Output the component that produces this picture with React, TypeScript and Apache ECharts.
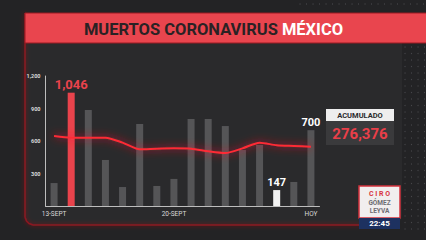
import React, { useEffect, useRef } from "react";
import * as echarts from "echarts";

const categories = ["13-SEPT","14-SEPT","15-SEPT","16-SEPT","17-SEPT","18-SEPT","19-SEPT","20-SEPT","21-SEPT","22-SEPT","23-SEPT","24-SEPT","25-SEPT","26-SEPT","27-SEPT","HOY"];
const deaths = [212, 1046, 886, 425, 175, 757, 185, 250, 803, 803, 738, 517, 563, 147, 222, 700];
const average = [646, 631, 631, 631, 585, 523, 529, 532, 529, 505, 489, 532, 585, 560, 554, 548];
const yTicks = [0, 300, 600, 900, 1200];
const shownLabels = [0, 7, 15];
const highlightRed = [1];
const highlightWhite = [13];
const labelled = [1, 13, 15];
const accumulated = "276,376";
const titleDark = "MUERTOS CORONAVIRUS ";
const titleLight = "MÉXICO";

function dots() {
  const out: any[] = [];
  for (let x = 405; x <= 426; x += 6.5) {
    for (let y = 47; y <= 235; y += 6.5) {
      out.push({ type: "circle", z: -20, shape: { cx: x, cy: y, r: 0.6 }, style: { fill: "#47474b" } });
    }
  }
  for (let x = 300; x <= 426; x += 6.5) {
    out.push({ type: "circle", z: -20, shape: { cx: x, cy: 4, r: 0.6 }, style: { fill: "#47474b" } });
  }
  return out;
}

export default function App() {
  const ref = useRef<HTMLDivElement>(null);
  useEffect(() => {
    if (!ref.current) return;
    const chart = echarts.init(ref.current, null, { renderer: "svg" });
    const barData = deaths.map((v, i) => {
      const red = highlightRed.includes(i);
      const white = highlightWhite.includes(i);
      const item: any = {
        value: v,
        itemStyle: { color: red ? "#e9434c" : white ? "#f2f2f2" : "rgba(120,120,124,0.55)" },
      };
      if (labelled.includes(i)) {
        item.label = {
          show: true,
          position: "top",
          distance: 2,
          formatter: (p: any) => Number(p.value).toLocaleString("en-US"),
          color: red ? "#e9434c" : "#ffffff",
          fontFamily: "Roboto",
          fontWeight: "bold",
          fontSize: red ? 13 : 11,
        };
      }
      return item;
    });
    chart.setOption({
      animation: false,
      backgroundColor: "#232325",
      grid: { left: 45.5, right: 106.5, top: 76, bottom: 34 },
      xAxis: {
        type: "category",
        data: categories,
        axisLine: { lineStyle: { color: "#bdbdbd", width: 1 } },
        axisTick: { show: false },
        axisLabel: {
          interval: (idx: number) => shownLabels.includes(idx),
          color: "#d8d8d8",
          fontSize: 6.5,
          fontFamily: "Roboto",
          margin: 4,
        },
      },
      yAxis: {
        type: "value",
        min: yTicks[0],
        max: yTicks[yTicks.length - 1],
        interval: 300,
        axisLine: { show: true, lineStyle: { color: "#bdbdbd", width: 1 } },
        axisTick: { show: false },
        splitLine: { show: false },
        axisLabel: {
          formatter: (v: number) => (v === 0 ? "" : v.toLocaleString("en-US")),
          color: "#d8d8d8",
          fontSize: 5.5,
          fontFamily: "Roboto",
          fontWeight: "bold",
          margin: 5,
        },
      },
      series: [
        {
          type: "bar",
          data: barData,
          barWidth: 7,
          z: 2,
        },
        {
          type: "line",
          data: average,
          symbol: "none",
          smooth: 0.25,
          z: 3,
          lineStyle: {
            color: "#ff2a36",
            width: 2,
            shadowColor: "rgba(255,30,40,1)",
            shadowBlur: 8,
          },
        },
      ],
      graphic: [
        ...dots(),
        {
          type: "rect",
          z: -10,
          shape: { x: 25, y: 13, width: 377, height: 212, r: [10, 0, 10, 10] },
          style: { fill: "#2a2a2c" },
        },
        {
          type: "polyline",
          z: -9,
          shape: { points: [[25, 13], [25, 217], [26.5, 221], [29, 223.5], [33, 225], [372, 225]] },
          style: { fill: null, stroke: "#8c1820", lineWidth: 1.5, shadowColor: "rgba(200,20,30,0.6)", shadowBlur: 4 },
        },
        {
          type: "rect",
          z: -5,
          shape: { x: 25, y: 13, width: 405, height: 30 },
          style: { fill: "#e9454e", stroke: "#9b1a22", lineWidth: 1 },
        },
        {
          type: "text",
          z: 10,
          x: 213.5,
          y: 29,
          style: {
            text: "{d|" + titleDark + "}{w|" + titleLight + "}",
            align: "center",
            verticalAlign: "middle",
            rich: {
              d: { fill: "#2a2224", fontSize: 16.5, fontWeight: "bold", fontFamily: "Roboto" },
              w: { fill: "#ffffff", fontSize: 16.5, fontWeight: "bold", fontFamily: "Roboto" },
            },
          },
        },
        {
          type: "rect",
          z: 10,
          shape: { x: 326, y: 109, width: 68, height: 12 },
          style: { fill: "#eeeeee" },
        },
        {
          type: "text",
          z: 11,
          x: 360,
          y: 115.5,
          style: { text: "ACUMULADO", align: "center", verticalAlign: "middle", fill: "#2a2a2c", fontSize: 7.5, fontWeight: "bold", fontFamily: "Roboto" },
        },
        {
          type: "rect",
          z: 10,
          shape: { x: 326, y: 121, width: 68, height: 24 },
          style: { fill: "#3a3a3c" },
        },
        {
          type: "text",
          z: 11,
          x: 360,
          y: 133.5,
          style: { text: accumulated, align: "center", verticalAlign: "middle", fill: "#ea3f49", fontSize: 15, fontWeight: "bold", fontFamily: "Roboto" },
        },
        {
          type: "rect",
          z: 10,
          shape: { x: 359, y: 186, width: 41, height: 32 },
          style: { fill: "#f1eeee", stroke: "#d2323c", lineWidth: 1.5 },
        },
        {
          type: "rect",
          z: 10,
          shape: { x: 359, y: 218, width: 41, height: 11 },
          style: { fill: "#1d3160" },
        },
        {
          type: "text",
          z: 11,
          x: 379.5,
          y: 194,
          style: { text: "C I R O", align: "center", verticalAlign: "middle", fill: "#d8323c", fontSize: 7, fontWeight: "bold", fontFamily: "Roboto" },
        },
        {
          type: "text",
          z: 11,
          x: 379.5,
          y: 203,
          style: { text: "GÓMEZ", align: "center", verticalAlign: "middle", fill: "#6d6d72", fontSize: 6.5, fontWeight: "bold", fontFamily: "Roboto" },
        },
        {
          type: "text",
          z: 11,
          x: 379.5,
          y: 211,
          style: { text: "LEYVA", align: "center", verticalAlign: "middle", fill: "#6d6d72", fontSize: 6.5, fontWeight: "bold", fontFamily: "Roboto" },
        },
        {
          type: "text",
          z: 11,
          x: 379.5,
          y: 223.5,
          style: { text: "22:45", align: "center", verticalAlign: "middle", fill: "#ffffff", fontSize: 8, fontWeight: "bold", fontFamily: "Roboto" },
        },
      ],
    });
    return () => chart.dispose();
  }, []);
  return <div ref={ref} style={{ position: "absolute", left: 0, top: 0, width: 426, height: 240 }} />;
}
